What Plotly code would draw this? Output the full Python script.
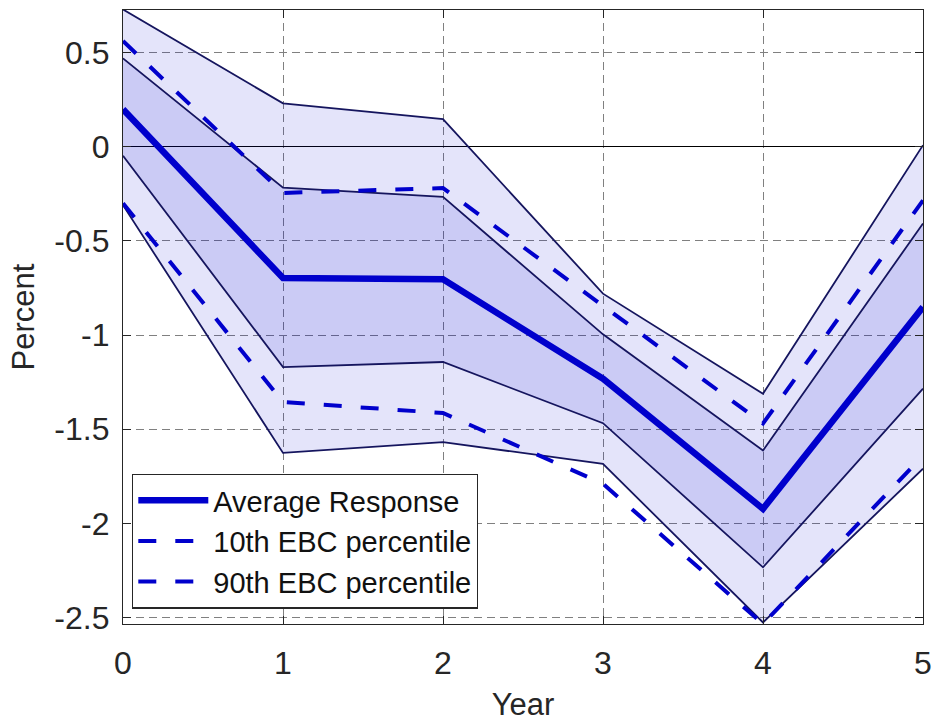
import plotly.graph_objects as go

years = [0, 1, 2, 3, 4, 5]
average = [0.20, -0.697, -0.704, -1.232, -1.923, -0.851]
inner_upper = [0.47, -0.217, -0.266, -0.996, -1.613, -0.407]
inner_lower = [-0.047, -1.17, -1.143, -1.468, -2.234, -1.285]
outer_upper = [0.73, 0.231, 0.147, -0.78, -1.312, 0.009]
outer_lower = [-0.31, -1.626, -1.569, -1.684, -2.527, -1.71]
pct10 = [0.562, -0.245, -0.219, -0.847, -1.47, -0.284]
pct90 = [-0.30, -1.356, -1.414, -1.79, -2.535, -1.64]

y_ticks = [-2.5, -2, -1.5, -1, -0.5, 0, 0.5]
y_tick_labels = ["-2.5", "-2", "-1.5", "-1", "-0.5", "0", "0.5"]
x_ticks = [0, 1, 2, 3, 4, 5]
x_tick_labels = ["0", "1", "2", "3", "4", "5"]

band_fill = "rgba(0,0,204,0.105)"
band_line = "#15155e"
blue = "#0000cc"
font_family = "Liberation Sans, Arial, sans-serif"
axis_color = "#262626"

fig = go.Figure()
fig.add_trace(go.Scatter(x=years, y=outer_lower, mode="lines",
                         line=dict(color=band_line, width=1.8), showlegend=False, hoverinfo="skip"))
fig.add_trace(go.Scatter(x=years, y=outer_upper, mode="lines", fill="tonexty", fillcolor=band_fill,
                         line=dict(color=band_line, width=1.8), showlegend=False, hoverinfo="skip"))
fig.add_trace(go.Scatter(x=years, y=inner_lower, mode="lines",
                         line=dict(color=band_line, width=1.8), showlegend=False, hoverinfo="skip"))
fig.add_trace(go.Scatter(x=years, y=inner_upper, mode="lines", fill="tonexty", fillcolor=band_fill,
                         line=dict(color=band_line, width=1.8), showlegend=False, hoverinfo="skip"))
fig.add_trace(go.Scatter(x=years, y=average, mode="lines", name="Average Response",
                         line=dict(color=blue, width=6.5)))
fig.add_trace(go.Scatter(x=years, y=pct10, mode="lines", name="10th EBC percentile",
                         line=dict(color=blue, width=4, dash="18px,19px")))
fig.add_trace(go.Scatter(x=years, y=pct90, mode="lines", name="90th EBC percentile",
                         line=dict(color=blue, width=4, dash="18px,19px")))

fig.update_layout(
    width=936, height=722,
    margin=dict(l=123, r=13, t=10, b=98),
    paper_bgcolor="white", plot_bgcolor="white",
    font=dict(family=font_family, size=31, color=axis_color),
    showlegend=True,
    legend=dict(x=0.01125, y=0.245, xanchor="left", yanchor="top",
                bgcolor="white", bordercolor="#262626", borderwidth=1.3,
                font=dict(family=font_family, size=29, color="#111111"),
                itemwidth=70, tracegroupgap=0, traceorder="normal"),
)
fig.update_xaxes(
    range=[0, 5], tickvals=x_ticks, ticktext=x_tick_labels, automargin=False,
    showline=True, linecolor=axis_color, linewidth=1.3, mirror="ticks",
    ticks="inside", ticklen=8, tickcolor=axis_color,
    showgrid=True, gridcolor="#808080", gridwidth=1, griddash="8px,5px",
    zeroline=False, ticklabelstandoff=10,
    title=dict(text="Year", standoff=16, font=dict(size=31, color=axis_color)),
    tickfont=dict(size=32, color=axis_color),
)
fig.update_yaxes(
    range=[-2.535, 0.727], tickvals=y_ticks, ticktext=y_tick_labels, automargin=False,
    showline=True, linecolor=axis_color, linewidth=1.3, mirror="ticks",
    ticks="inside", ticklen=8, tickcolor=axis_color,
    showgrid=True, gridcolor="#808080", gridwidth=1, griddash="8px,5px",
    zeroline=True, zerolinecolor="#000000", zerolinewidth=1.2,
    ticklabelstandoff=6,
    title=dict(text="Percent", standoff=10, font=dict(size=31, color=axis_color)),
    tickfont=dict(size=32, color=axis_color),
)

fig.write_html("out.html")
